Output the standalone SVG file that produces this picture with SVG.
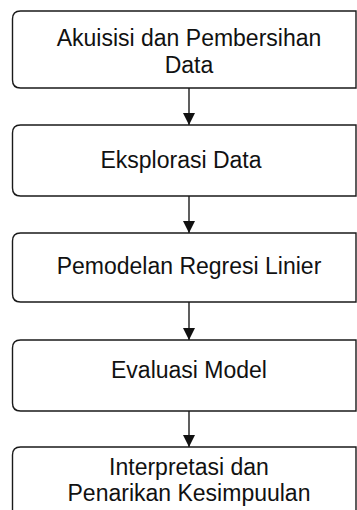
<svg xmlns="http://www.w3.org/2000/svg" width="357" height="510" viewBox="0 0 357 510">
<defs>
<style>
.box{fill:#fff;stroke:#1a1a1a;stroke-width:1.4}
.t{font-family:"Liberation Sans",Arial,sans-serif;font-size:23px;fill:#111;text-anchor:middle}
.c{stroke:#1a1a1a;stroke-width:1.4;fill:none}
</style>
<marker id="ah" markerWidth="12" markerHeight="12" viewBox="0 0 12 12" refX="12" refY="6" orient="auto" markerUnits="userSpaceOnUse">
<path d="M0,0 L12,6 L0,12 Z" fill="#111"/>
</marker>
</defs>
<rect width="357" height="510" fill="#fff"/>
<g id="connectors">
<line class="c" x1="189" y1="88" x2="189" y2="125" marker-end="url(#ah)"/>
<line class="c" x1="189" y1="196" x2="189" y2="233" marker-end="url(#ah)"/>
<line class="c" x1="189" y1="302" x2="189" y2="340" marker-end="url(#ah)"/>
<line class="c" x1="189" y1="411" x2="189" y2="447" marker-end="url(#ah)"/>
</g>
<g id="n1">
<path class="box" d="M356,11 H20.5 Q12.5,11 12.5,19 V80 Q12.5,88 20.5,88 H356 Z"/>
<text class="t" x="189" y="46">Akuisisi dan Pembersihan</text>
<text class="t" x="189" y="73">Data</text>
</g>
<g id="n2">
<path class="box" d="M356,125 H20.5 Q12.5,125 12.5,133 V188 Q12.5,196 20.5,196 H356 Z"/>
<text class="t" x="181" y="168">Eksplorasi Data</text>
</g>
<g id="n3">
<path class="box" d="M356,233 H20.5 Q12.5,233 12.5,241 V294 Q12.5,302 20.5,302 H356 Z"/>
<text class="t" x="189" y="274">Pemodelan Regresi Linier</text>
</g>
<g id="n4">
<path class="box" d="M356,340 H20.5 Q12.5,340 12.5,348 V403 Q12.5,411 20.5,411 H356 Z"/>
<text class="t" x="189" y="378">Evaluasi Model</text>
</g>
<g id="n5">
<path class="box" d="M356,447 H20.5 Q12.5,447 12.5,455 V520 H356 Z"/>
<text class="t" x="189" y="475">Interpretasi dan</text>
<text class="t" x="189" y="501">Penarikan Kesimpuulan</text>
</g>
</svg>
